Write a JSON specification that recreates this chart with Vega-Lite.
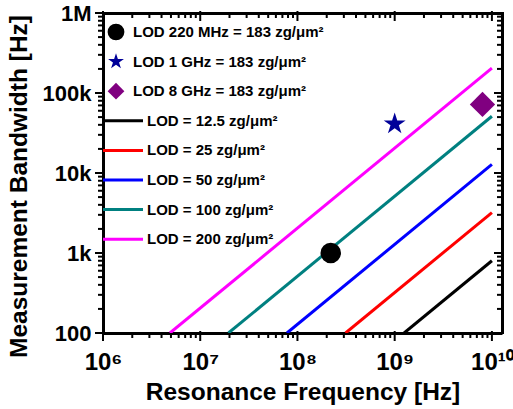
{
  "$schema": "https://vega.github.io/schema/vega-lite/v6.json",
  "width": 399,
  "height": 320,
  "autosize": {"type": "none"},
  "padding": {"left": 103, "top": 13, "right": 11, "bottom": 76},
  "config": {"view": {"stroke": null}, "font": "Liberation Sans"},
  "datasets": {
    "xticks": [
      {"t": 1000000, "kind": "major"}, {"t": 2000000, "kind": "minor"}, {"t": 3000000, "kind": "minor"}, {"t": 4000000, "kind": "minor"}, {"t": 5000000, "kind": "minor"}, {"t": 6000000, "kind": "minor"}, {"t": 7000000, "kind": "minor"}, {"t": 8000000, "kind": "minor"}, {"t": 9000000, "kind": "minor"},
      {"t": 10000000, "kind": "major"}, {"t": 20000000, "kind": "minor"}, {"t": 30000000, "kind": "minor"}, {"t": 40000000, "kind": "minor"}, {"t": 50000000, "kind": "minor"}, {"t": 60000000, "kind": "minor"}, {"t": 70000000, "kind": "minor"}, {"t": 80000000, "kind": "minor"}, {"t": 90000000, "kind": "minor"},
      {"t": 100000000, "kind": "major"}, {"t": 200000000, "kind": "minor"}, {"t": 300000000, "kind": "minor"}, {"t": 400000000, "kind": "minor"}, {"t": 500000000, "kind": "minor"}, {"t": 600000000, "kind": "minor"}, {"t": 700000000, "kind": "minor"}, {"t": 800000000, "kind": "minor"}, {"t": 900000000, "kind": "minor"},
      {"t": 1000000000, "kind": "major"}, {"t": 2000000000, "kind": "minor"}, {"t": 3000000000, "kind": "minor"}, {"t": 4000000000, "kind": "minor"}, {"t": 5000000000, "kind": "minor"}, {"t": 6000000000, "kind": "minor"}, {"t": 7000000000, "kind": "minor"}, {"t": 8000000000, "kind": "minor"}, {"t": 9000000000, "kind": "minor"},
      {"t": 10000000000, "kind": "major"}
    ],
    "yticks": [
      {"t": 100, "kind": "major"}, {"t": 200, "kind": "minor"}, {"t": 300, "kind": "minor"}, {"t": 400, "kind": "minor"}, {"t": 500, "kind": "minor"}, {"t": 600, "kind": "minor"}, {"t": 700, "kind": "minor"}, {"t": 800, "kind": "minor"}, {"t": 900, "kind": "minor"},
      {"t": 1000, "kind": "major"}, {"t": 2000, "kind": "minor"}, {"t": 3000, "kind": "minor"}, {"t": 4000, "kind": "minor"}, {"t": 5000, "kind": "minor"}, {"t": 6000, "kind": "minor"}, {"t": 7000, "kind": "minor"}, {"t": 8000, "kind": "minor"}, {"t": 9000, "kind": "minor"},
      {"t": 10000, "kind": "major"}, {"t": 20000, "kind": "minor"}, {"t": 30000, "kind": "minor"}, {"t": 40000, "kind": "minor"}, {"t": 50000, "kind": "minor"}, {"t": 60000, "kind": "minor"}, {"t": 70000, "kind": "minor"}, {"t": 80000, "kind": "minor"}, {"t": 90000, "kind": "minor"},
      {"t": 100000, "kind": "major"}, {"t": 200000, "kind": "minor"}, {"t": 300000, "kind": "minor"}, {"t": 400000, "kind": "minor"}, {"t": 500000, "kind": "minor"}, {"t": 600000, "kind": "minor"}, {"t": 700000, "kind": "minor"}, {"t": 800000, "kind": "minor"}, {"t": 900000, "kind": "minor"},
      {"t": 1000000, "kind": "major"}
    ]
  },
  "layer": [
    {
      "data": {"values": [
        {"series": "LOD = 12.5 zg/μm²", "f": 1250000000, "bw": 100},
        {"series": "LOD = 12.5 zg/μm²", "f": 10000000000, "bw": 800},
        {"series": "LOD = 25 zg/μm²", "f": 312500000, "bw": 100},
        {"series": "LOD = 25 zg/μm²", "f": 10000000000, "bw": 3200},
        {"series": "LOD = 50 zg/μm²", "f": 78000000, "bw": 100},
        {"series": "LOD = 50 zg/μm²", "f": 10000000000, "bw": 12800},
        {"series": "LOD = 100 zg/μm²", "f": 19500000, "bw": 100},
        {"series": "LOD = 100 zg/μm²", "f": 10000000000, "bw": 51200},
        {"series": "LOD = 200 zg/μm²", "f": 4880000, "bw": 100},
        {"series": "LOD = 200 zg/μm²", "f": 10000000000, "bw": 204800}
      ]},
      "mark": {"type": "line", "strokeWidth": 3, "clip": true},
      "encoding": {
        "x": {
          "field": "f", "type": "quantitative",
          "scale": {"type": "log", "domain": [1000000, 12700000000], "nice": false},
          "axis": {
            "orient": "bottom",
            "values": [1000000,2000000,3000000,4000000,5000000,6000000,7000000,8000000,9000000,10000000,20000000,30000000,40000000,50000000,60000000,70000000,80000000,90000000,100000000,200000000,300000000,400000000,500000000,600000000,700000000,800000000,900000000,1000000000,2000000000,3000000000,4000000000,5000000000,6000000000,7000000000,8000000000,9000000000,10000000000],
            "labelExpr": "datum.value==1000000?'10⁶':datum.value==10000000?'10⁷':datum.value==100000000?'10⁸':datum.value==1000000000?'10⁹':datum.value==10000000000?'10¹⁰':''",
            "tickSize": 7, "tickOpacity": 0,
            "encode": {"labels": {"update": {"dx": {"signal": "datum.value == 10000000000 ? -4 : 0"}}}},
            "domainColor": "black", "domainWidth": 3,
            "labelFont": "Liberation Sans", "labelFontWeight": "bold", "labelFontSize": 24, "labelColor": "black",
            "labelPadding": 10, "labelFlush": false, "labelOverlap": false,
            "title": "Resonance Frequency [Hz]",
            "titleFont": "Liberation Sans", "titleFontWeight": "bold", "titleFontSize": 24.5, "titleColor": "black",
            "titleY": 66, "titleBaseline": "alphabetic",
            "grid": false
          }
        },
        "y": {
          "field": "bw", "type": "quantitative",
          "scale": {"type": "log", "domain": [100, 1000000], "nice": false},
          "axis": {
            "orient": "left",
            "values": [100,200,300,400,500,600,700,800,900,1000,2000,3000,4000,5000,6000,7000,8000,9000,10000,20000,30000,40000,50000,60000,70000,80000,90000,100000,200000,300000,400000,500000,600000,700000,800000,900000,1000000],
            "labelExpr": "datum.value==100?'100':datum.value==1000?'1k':datum.value==10000?'10k':datum.value==100000?'100k':datum.value==1000000?'1M':''",
            "tickSize": 8, "tickOpacity": 0,
            "domainColor": "black", "domainWidth": 3,
            "labelFont": "Liberation Sans", "labelFontWeight": "bold", "labelFontSize": 22, "labelColor": "black",
            "labelPadding": 4, "labelFlush": false, "labelOverlap": false,
            "title": "Measurement Bandwidth [Hz]",
            "titleFont": "Liberation Sans", "titleFontWeight": "bold", "titleFontSize": 24.5, "titleColor": "black",
            "titleX": -77, "titleY": 173, "titleBaseline": "alphabetic", "titleAlign": "center",
            "grid": false
          }
        },
        "color": {
          "field": "series", "type": "nominal",
          "scale": {
            "domain": ["LOD 220 MHz = 183 zg/μm²", "LOD 1 GHz = 183 zg/μm²", "LOD 8 GHz = 183 zg/μm²", "LOD = 12.5 zg/μm²", "LOD = 25 zg/μm²", "LOD = 50 zg/μm²", "LOD = 100 zg/μm²", "LOD = 200 zg/μm²"],
            "range": ["#000000", "#000099", "#800080", "#000000", "#FF0000", "#0000FF", "#008080", "#FF00FF"]
          },
          "legend": {
            "title": null, "orient": "none", "legendX": 0, "legendY": 8, "padding": 0,
            "symbolSize": 1600, "clipHeight": 22, "rowPadding": 7.6, "labelLimit": 400,
            "labelFont": "Liberation Sans", "labelFontWeight": "bold", "labelFontSize": 15, "labelColor": "black", "labelOffset": 4,
            "encode": {
              "symbols": {"update": {
                "x": {"signal": "datum.index < 3 ? 13 : 20"},
                "fill": {"scale": "color", "field": "value"},
                "stroke": {"scale": "color", "field": "value"},
                "strokeWidth": {"signal": "datum.index < 3 ? 0 : 3"},
                "size": {"signal": "datum.index < 3 ? 280 : 1600"},
                "opacity": {"value": 1}
              }},
              "labels": {"update": {"x": {"signal": "datum.index < 3 ? 30 : 44"}}}
            }
          }
        }
      }
    },
    {
      "data": {"values": [
        {"series": "LOD 220 MHz = 183 zg/μm²", "f": 220000000, "bw": 1000},
        {"series": "LOD 1 GHz = 183 zg/μm²", "f": 1000000000, "bw": 41000},
        {"series": "LOD 8 GHz = 183 zg/μm²", "f": 8000000000, "bw": 72000}
      ]},
      "mark": {"type": "point", "filled": true, "opacity": 1},
      "encoding": {
        "x": {
          "field": "f", "type": "quantitative",
          "axis": {
            "orient": "top", "labels": false, "title": null,
            "tickSize": 6, "tickOpacity": 0,
            "domainColor": "black", "domainWidth": 3, "grid": false
          }
        },
        "y": {
          "field": "bw", "type": "quantitative",
          "axis": {
            "orient": "right", "labels": false, "title": null,
            "tickSize": 6, "tickOpacity": 0,
            "domainColor": "black", "domainWidth": 3, "grid": false
          }
        },
        "color": {"field": "series", "type": "nominal"},
        "shape": {
          "field": "series", "type": "nominal",
          "scale": {
            "domain": ["LOD 220 MHz = 183 zg/μm²", "LOD 1 GHz = 183 zg/μm²", "LOD 8 GHz = 183 zg/μm²", "LOD = 12.5 zg/μm²", "LOD = 25 zg/μm²", "LOD = 50 zg/μm²", "LOD = 100 zg/μm²", "LOD = 200 zg/μm²"],
            "range": ["circle", "M0,-1L0.2245,-0.309L0.951,-0.309L0.363,0.118L0.588,0.809L0,0.382L-0.588,0.809L-0.363,0.118L-0.951,-0.309L-0.2245,-0.309Z", "diamond", "stroke", "stroke", "stroke", "stroke", "stroke"]
          },
          "legend": {
            "title": null, "orient": "none", "legendX": 0, "legendY": 8, "padding": 0,
            "symbolSize": 1600, "clipHeight": 22, "rowPadding": 7.6, "labelLimit": 400,
            "labelFont": "Liberation Sans", "labelFontWeight": "bold", "labelFontSize": 15, "labelColor": "black", "labelOffset": 4,
            "encode": {
              "symbols": {"update": {
                "x": {"signal": "datum.index < 3 ? 13 : 20"},
                "fill": {"scale": "color", "field": "value"},
                "stroke": {"scale": "color", "field": "value"},
                "strokeWidth": {"signal": "datum.index < 3 ? 0 : 3"},
                "size": {"signal": "datum.index < 3 ? 280 : 1600"},
                "opacity": {"value": 1}
              }},
              "labels": {"update": {"x": {"signal": "datum.index < 3 ? 30 : 44"}}}
            }
          }
        },
        "size": {
          "field": "series", "type": "nominal",
          "scale": {"domain": ["LOD 220 MHz = 183 zg/μm²", "LOD 1 GHz = 183 zg/μm²", "LOD 8 GHz = 183 zg/μm²"], "range": [420, 640, 680]},
          "legend": null
        }
      }
    },
    {
      "data": {"name": "xticks"},
      "mark": {"type": "tick", "orient": "vertical", "thickness": 2, "color": "#000000", "opacity": 1, "yOffset": 3},
      "encoding": {
        "x": {"field": "t", "type": "quantitative", "axis": null},
        "y": {"datum": 100, "type": "quantitative", "axis": null},
        "size": {"field": "kind", "type": "nominal", "scale": {"domain": ["major", "minor"], "range": [10, 4]}, "legend": null}
      }
    },
    {
      "data": {"name": "xticks"},
      "mark": {"type": "tick", "orient": "vertical", "thickness": 2, "color": "#000000", "opacity": 1, "yOffset": 3},
      "encoding": {
        "x": {"field": "t", "type": "quantitative", "axis": null},
        "y": {"datum": 1000000, "type": "quantitative", "axis": null},
        "size": {"field": "kind", "type": "nominal", "scale": {"domain": ["major", "minor"], "range": [10, 4]}, "legend": null}
      }
    },
    {
      "data": {"name": "yticks"},
      "mark": {"type": "tick", "orient": "horizontal", "thickness": 2, "color": "#000000", "opacity": 1, "xOffset": -3},
      "encoding": {
        "y": {"field": "t", "type": "quantitative", "axis": null},
        "x": {"datum": 1000000, "type": "quantitative", "axis": null},
        "size": {"field": "kind", "type": "nominal", "scale": {"domain": ["major", "minor"], "range": [10, 4]}, "legend": null}
      }
    },
    {
      "data": {"name": "yticks"},
      "mark": {"type": "tick", "orient": "horizontal", "thickness": 2, "color": "#000000", "opacity": 1, "xOffset": -3},
      "encoding": {
        "y": {"field": "t", "type": "quantitative", "axis": null},
        "x": {"datum": 12700000000, "type": "quantitative", "axis": null},
        "size": {"field": "kind", "type": "nominal", "scale": {"domain": ["major", "minor"], "range": [10, 4]}, "legend": null}
      }
    }
  ],
  "resolve": {"axis": {"x": "independent", "y": "independent"}, "scale": {"size": "independent"}}
}
